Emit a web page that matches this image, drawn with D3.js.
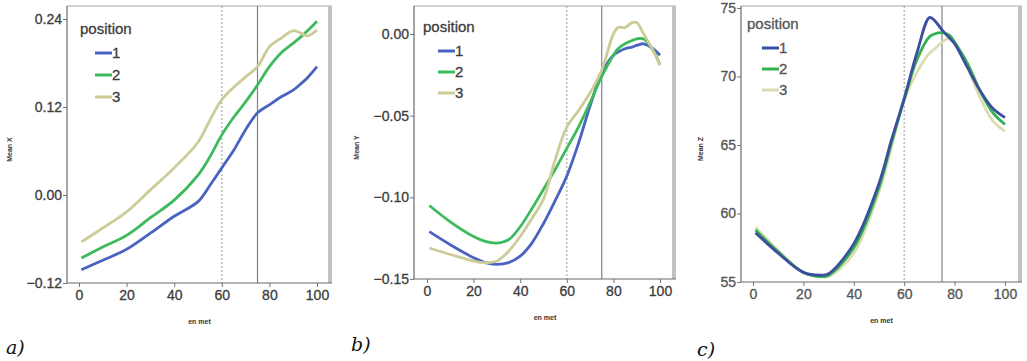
<!DOCTYPE html>
<html>
<head>
<meta charset="utf-8">
<script src="https://cdn.jsdelivr.net/npm/d3@7"></script>
<style>
  body { margin: 0; background: #fff; }
  svg { display: block; }
</style>
</head>
<body>
<div id="chart"></div>
<script>
// series labels and colours
var positions = ["1", "2", "3"];

// panel a - Mean X
var xsA = [1, 10, 20, 30, 40, 50, 55, 60, 65, 70, 75, 80, 85, 90, 93, 96, 100];
var meanX1 = [-0.102, -0.089, -0.074, -0.052, -0.029, -0.009, 0.013, 0.037, 0.061, 0.089, 0.112, 0.123, 0.134, 0.143, 0.151, 0.160, 0.175];
var meanX2 = [-0.086, -0.071, -0.055, -0.031, -0.007, 0.027, 0.052, 0.082, 0.106, 0.127, 0.150, 0.175, 0.194, 0.207, 0.215, 0.224, 0.237];
var meanX3 = [-0.064, -0.045, -0.023, 0.007, 0.037, 0.072, 0.102, 0.130, 0.147, 0.161, 0.175, 0.202, 0.214, 0.224, 0.221, 0.217, 0.225];
var ticksA = [-0.12, 0.00, 0.12, 0.24];

// panel b - Mean Y
var xsB = [1, 10, 20, 25, 30, 35, 40, 45, 50, 55, 60, 65, 70, 75, 80, 82, 85, 88, 90, 93, 97, 100];
var meanY1 = [-0.121, -0.129, -0.137, -0.140, -0.141, -0.140, -0.136, -0.128, -0.116, -0.102, -0.087, -0.067, -0.044, -0.024, -0.013, -0.011, -0.009, -0.008, -0.007, -0.006, -0.009, -0.013];
var meanY2 = [-0.105, -0.115, -0.124, -0.127, -0.128, -0.126, -0.118, -0.107, -0.095, -0.083, -0.070, -0.057, -0.042, -0.026, -0.013, -0.009, -0.006, -0.004, -0.003, -0.003, -0.010, -0.019];
var meanY3 = [-0.131, -0.135, -0.139, -0.140, -0.139, -0.133, -0.124, -0.113, -0.101, -0.077, -0.057, -0.047, -0.036, -0.022, 0.000, 0.004, 0.004, 0.007, 0.007, 0.000, -0.010, -0.019];
var ticksB = [-0.15, -0.10, -0.05, 0.00];

// panel c - Mean Z
var xsC = [1, 10, 20, 27, 30, 40, 50, 55, 60, 65, 70, 72, 75, 78, 80, 85, 90, 95, 100];
var meanZ1 = [58.6, 57.1, 55.7, 55.5, 55.6, 57.8, 62.2, 65.4, 68.4, 71.7, 74.3, 74.1, 73.4, 72.8, 72.4, 70.7, 69.0, 67.7, 67.0];
var meanZ2 = [58.8, 57.2, 55.7, 55.4, 55.5, 57.5, 61.9, 65.2, 68.3, 71.2, 72.9, 73.1, 73.2, 73.0, 72.5, 71.0, 69.0, 67.4, 66.5];
var meanZ3 = [59.0, 57.3, 55.7, 55.4, 55.4, 57.1, 61.6, 64.9, 68.3, 70.3, 71.7, 72.0, 72.5, 72.8, 72.5, 70.7, 68.5, 66.8, 66.0];
var ticksC = [55, 60, 65, 70, 75];

var xTicks = [0, 20, 40, 60, 80, 100];
var refLines = [60, 75]; // dashed, solid

var FONT = "'Liberation Sans', Arial, sans-serif";

var svg = d3.select("#chart").append("svg")
    .attr("width", 1027)
    .attr("height", 361);

function drawPanel(p){
    var g = svg.append("g");

    var x = d3.scaleLinear().domain([0, 100]).range([p.x0, p.x1]);
    var y = d3.scaleLinear().domain(p.yDomain).range([p.yBottom, p.yTop]);

    // frame: top light line, right grey bar
    g.append("line")
        .attr("x1", p.left).attr("x2", p.right)
        .attr("y1", p.frameTop).attr("y2", p.frameTop)
        .attr("stroke", "#c4c4c4").attr("stroke-width", 1.5);
    g.append("rect")
        .attr("x", p.right - 4).attr("y", p.frameTop)
        .attr("width", 4).attr("height", p.frameBottom - p.frameTop)
        .attr("fill", "#c2c2c2");

    // reference lines
    g.append("line")
        .attr("x1", x(refLines[0])).attr("x2", x(refLines[0]))
        .attr("y1", p.frameTop).attr("y2", p.frameBottom)
        .attr("stroke", "#a8a8a8").attr("stroke-width", 1.2)
        .attr("stroke-dasharray", "2,2");
    g.append("line")
        .attr("x1", x(refLines[1])).attr("x2", x(refLines[1]))
        .attr("y1", p.frameTop).attr("y2", p.frameBottom)
        .attr("stroke", "#808080").attr("stroke-width", 1.2);

    // lines
    var line = d3.line()
        .x(function(d){ return x(d[0]); })
        .y(function(d){ return y(d[1]); })
        .curve(d3.curveCatmullRom);

    p.order.forEach(function(i){
        var pts = p.xs.map(function(v, k){ return [v, p.series[i][k]]; });
        g.append("path")
            .datum(pts)
            .attr("d", line)
            .attr("fill", "none")
            .attr("stroke", p.colors[i])
            .attr("stroke-width", 2.8)
            .attr("stroke-linejoin", "round");
    });

    // axes
    var yAxis = d3.axisLeft(y).tickValues(p.yTicks).tickSize(4).tickPadding(1)
        .tickFormat(p.fmt);
    var ya = g.append("g")
        .attr("transform", "translate(" + p.left + ",0)")
        .call(yAxis);
    ya.select(".domain").remove();
    g.append("line")
        .attr("x1", p.left).attr("x2", p.left)
        .attr("y1", p.frameTop).attr("y2", p.frameBottom)
        .attr("stroke", "#6a6a6a").attr("stroke-width", 1.2);

    var xAxis = d3.axisBottom(x).tickValues(xTicks).tickSize(4).tickPadding(3);
    var xa = g.append("g")
        .attr("transform", "translate(0," + p.frameBottom + ")")
        .call(xAxis);
    xa.select(".domain").remove();
    g.append("line")
        .attr("x1", p.left).attr("x2", p.right)
        .attr("y1", p.frameBottom).attr("y2", p.frameBottom)
        .attr("stroke", "#6a6a6a").attr("stroke-width", 1.2);

    [ya, xa].forEach(function(a){
        a.selectAll(".tick line").attr("stroke", "#777");
        a.selectAll(".tick text")
            .attr("fill", p.textColor)
            .attr("stroke", p.textColor).attr("stroke-width", 0.3)
            .style("font-family", FONT)
            .style("font-size", "14px");
    });

    // axis titles
    g.append("text")
        .attr("transform", "translate(" + p.yTitleX + "," + ((p.frameTop + p.frameBottom) / 2 + 5) + ") rotate(-90)")
        .attr("text-anchor", "middle")
        .style("font-family", FONT)
        .style("font-size", "7px").style("font-weight", "bold")
        .attr("fill", "#333")
        .text(p.yTitle);
    g.append("text")
        .attr("x", (p.left + p.right) / 2)
        .attr("y", p.frameBottom + 41)
        .attr("text-anchor", "middle")
        .style("font-family", FONT)
        .style("font-size", "7px").style("font-weight", "bold")
        .attr("fill", "#333")
        .text("en met");

    // legend
    var lg = g.append("g").attr("transform", "translate(" + p.legX + "," + p.legY + ")");
    lg.append("text")
        .attr("x", 0).attr("y", 0)
        .style("font-family", FONT)
        .style("font-size", "15px")
        .attr("fill", p.textColor)
        .attr("stroke", p.textColor).attr("stroke-width", 0.3)
        .text("position");
    positions.forEach(function(s, i){
        var yy = 24 + i * p.legStep;
        lg.append("line")
            .attr("x1", 15).attr("x2", 32)
            .attr("y1", yy - 5).attr("y2", yy - 5)
            .attr("stroke", p.colors[i]).attr("stroke-width", 3);
        lg.append("text")
            .attr("x", 32).attr("y", yy)
            .style("font-family", FONT)
            .style("font-size", "15px")
            .attr("fill", p.textColor)
            .attr("stroke", p.textColor).attr("stroke-width", 0.3)
            .text(s);
    });

    // panel letter
    svg.append("text")
        .attr("x", p.letterX).attr("y", p.letterY)
        .style("font-family", "'DejaVu Serif', serif")
        .style("font-style", "italic")
        .style("font-size", "19px")
        .attr("fill", "#111")
        .text(p.letter);
}

drawPanel({
    xs: xsA, series: [meanX1, meanX2, meanX3], order: [0, 1, 2],
    colors: ["#4a63c0", "#3dba5c", "#cdcb98"],
    yDomain: [-0.12, 0.24], yTicks: ticksA, fmt: d3.format(".2f"),
    x0: 79, x1: 317, yBottom: 283, yTop: 19,
    left: 67, right: 332, frameTop: 6, frameBottom: 283,
    yTitle: "Mean X", yTitleX: 12,
    legX: 80, legY: 34, legStep: 22,
    textColor: "#3c3c3c",
    letter: "a)", letterX: 6, letterY: 354
});

drawPanel({
    xs: xsB, series: [meanY1, meanY2, meanY3], order: [0, 1, 2],
    colors: ["#4a63c0", "#3dba5c", "#cdcb98"],
    yDomain: [-0.15, 0.00], yTicks: ticksB, fmt: d3.format(".2f"),
    x0: 427, x1: 660, yBottom: 279, yTop: 34,
    left: 414, right: 676, frameTop: 6, frameBottom: 279,
    yTitle: "Mean Y", yTitleX: 359,
    legX: 423, legY: 32, legStep: 21,
    textColor: "#3c3c3c",
    letter: "b)", letterX: 351, letterY: 351
});

drawPanel({
    xs: xsC, series: [meanZ1, meanZ2, meanZ3], order: [2, 1, 0],
    colors: ["#3b4f9e", "#33b052", "#dcdcb0"],
    yDomain: [55, 75], yTicks: ticksC, fmt: d3.format("d"),
    x0: 753, x1: 1005, yBottom: 282, yTop: 8,
    left: 741, right: 1022, frameTop: 6, frameBottom: 282,
    yTitle: "Mean Z", yTitleX: 703,
    legX: 747, legY: 29, legStep: 21,
    textColor: "#555",
    letter: "c)", letterX: 697, letterY: 356
});
</script>
</body>
</html>
